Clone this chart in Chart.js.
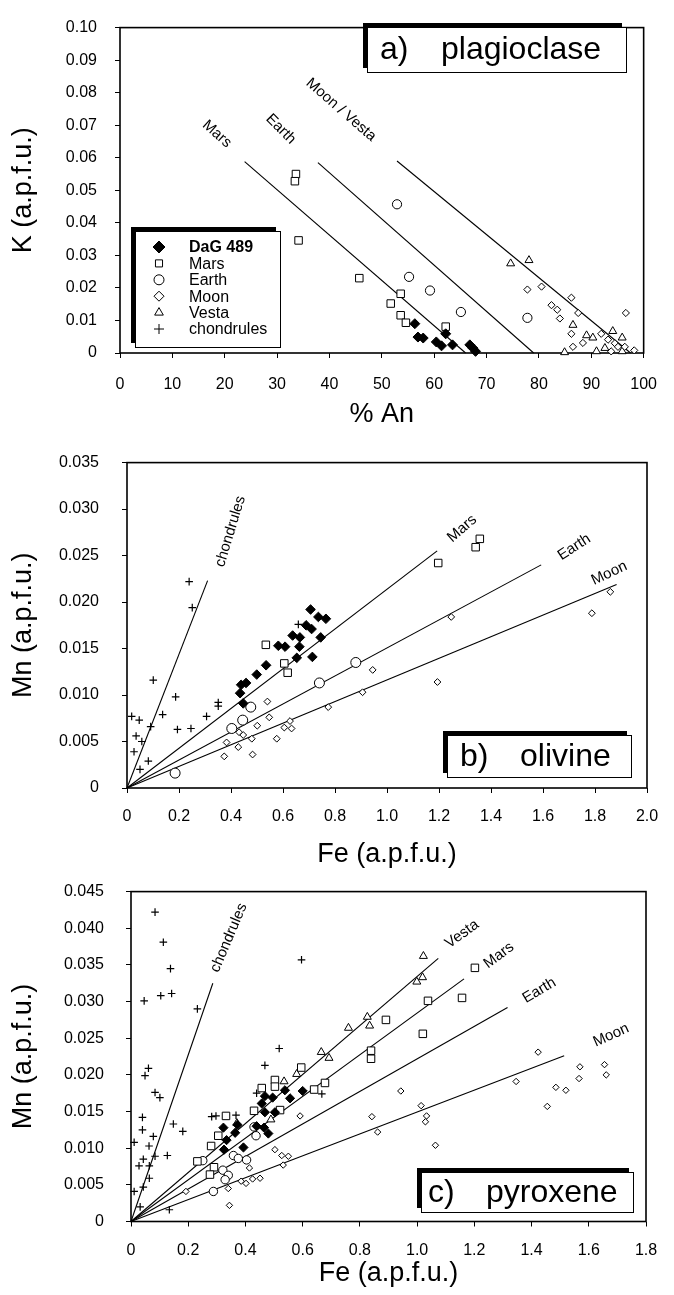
<!DOCTYPE html>
<html>
<head>
<meta charset="utf-8">
<script src="https://cdn.jsdelivr.net/npm/chart.js@4.4.1/dist/chart.umd.min.js"></script>
<style>
  html, body { margin: 0; padding: 0; background: #fff; }
  #wrap { position: relative; width: 674px; height: 1295px; overflow: hidden; background: #fff; }
  canvas { position: absolute; left: 0; }
</style>
</head>
<body>
<div id="wrap">
  <canvas id="chartA" width="674" height="440" style="top:0"></canvas>
  <canvas id="chartB" width="674" height="450" style="top:430px"></canvas>
  <canvas id="chartC" width="674" height="435" style="top:860px"></canvas>
</div>
<script>
// a) plagioclase : % An vs K (a.p.f.u.)
const aDaG = [[56.3,0.0090],[56.9,0.0049],[57.9,0.0046],[60.4,0.0034],[61.4,0.0022],[62.2,0.0059],[63.5,0.0025],[66.8,0.0025],[67.4,0.0015],[67.9,0.0005]];
const aMars = [[33.6,0.0550],[33.4,0.0528],[34.1,0.0346],[45.7,0.0230],[53.6,0.0182],[51.7,0.0152],[53.6,0.0116],[54.6,0.0093],[62.2,0.0081]];
const aEarth = [[52.9,0.0457],[55.2,0.0234],[59.2,0.0192],[65.1,0.0126],[77.8,0.0108]];
const aMoon = [[77.8,0.0195],[80.5,0.0204],[86.2,0.0170],[82.4,0.0147],[83.5,0.0133],[84.0,0.0106],[87.5,0.0123],[96.6,0.0123],[86.2,0.0059],[86.5,0.0019],[88.4,0.0031],[91.9,0.0059],[93.2,0.0041],[94.5,0.0030],[96.4,0.0019],[98.2,0.0008],[93.8,0.0005],[95.1,0.0019]];
const aVesta = [[74.6,0.0275],[78.1,0.0285],[84.9,0.0002],[86.5,0.0086],[89.1,0.0054],[90.3,0.0047],[94.1,0.0067],[95.9,0.0047],[91.0,0.0005],[92.6,0.0015],[95.9,0.0005]];
const aLineMars = [[23.8,0.0588],[66,0]];
const aLineEarth = [[37.8,0.0585],[79,0]];
const aLineMoonVesta = [[52.9,0.059],[97.5,0]];
const aXVals = [0,10,20,30,40,50,60,70,80,90,100];
const aXLabels = ['0','10','20','30','40','50','60','70','80','90','100'];
const aYVals = [0,0.01,0.02,0.03,0.04,0.05,0.06,0.07,0.08,0.09,0.10];
const aYLabels = ['0','0.01','0.02','0.03','0.04','0.05','0.06','0.07','0.08','0.09','0.10'];
const aLineLabels = [['Mars',18.5,0.0673,42],['Earth',30.7,0.0688,45],['Moon / Vesta',42.2,0.0747,41]];

// b) olivine : Fe vs Mn (a.p.f.u.)
const bDaG = [[0.706,0.0192],[0.736,0.0184],[0.765,0.0182],[0.689,0.0175],[0.710,0.0171],[0.745,0.0162],[0.637,0.0164],[0.665,0.0162],[0.663,0.0152],[0.582,0.0153],[0.608,0.0152],[0.653,0.0140],[0.713,0.0141],[0.535,0.0132],[0.499,0.0122],[0.439,0.0111],[0.458,0.0113],[0.435,0.0102],[0.447,0.0091]];
const bMars = [[0.534,0.0154],[0.605,0.0134],[0.618,0.0124],[1.197,0.0242],[1.341,0.0259],[1.357,0.0268]];
const bEarth = [[0.880,0.0135],[0.740,0.0113],[0.476,0.0087],[0.445,0.0073],[0.403,0.0064],[0.185,0.0016]];
const bMoon = [[0.540,0.0093],[0.547,0.0076],[0.501,0.0067],[0.431,0.0060],[0.447,0.0057],[0.480,0.0053],[0.383,0.0049],[0.428,0.0044],[0.374,0.0034],[0.483,0.0036],[0.576,0.0053],[0.605,0.0065],[0.627,0.0072],[0.633,0.0064],[0.774,0.0087],[0.906,0.0103],[0.945,0.0127],[1.194,0.0114],[1.247,0.0184],[1.788,0.0188],[1.859,0.0211]];
const bChond = [[0.239,0.0222],[0.251,0.0194],[0.101,0.0116],[0.187,0.0098],[0.137,0.0079],[0.018,0.0077],[0.047,0.0073],[0.091,0.0066],[0.194,0.0063],[0.246,0.0064],[0.306,0.0077],[0.351,0.0092],[0.351,0.0088],[0.035,0.0056],[0.057,0.0050],[0.027,0.0039],[0.082,0.0029],[0.050,0.0020],[0.659,0.0176]];
const bLineChond = [[0,0],[0.310,0.0223]];
const bLineMars = [[0,0],[1.193,0.0255]];
const bLineEarth = [[0,0],[1.593,0.0240]];
const bLineMoon = [[0,0],[1.883,0.0219]];
const bXVals = [0,0.2,0.4,0.6,0.8,1.0,1.2,1.4,1.6,1.8,2.0];
const bXLabels = ['0','0.2','0.4','0.6','0.8','1.0','1.2','1.4','1.6','1.8','2.0'];
const bYVals = [0,0.005,0.010,0.015,0.020,0.025,0.030,0.035];
const bYLabels = ['0','0.005','0.010','0.015','0.020','0.025','0.030','0.035'];
const bLineLabels = [['chondrules',0.398,0.0276,-73],['Mars',1.289,0.0279,-41],['Earth',1.72,0.0259,-33],['Moon',1.855,0.0231,-25]];

// c) pyroxene : Fe vs Mn (a.p.f.u.)
const cDaG = [[0.538,0.0179],[0.600,0.0178],[0.556,0.0168],[0.468,0.0171],[0.495,0.0169],[0.457,0.0161],[0.503,0.0149],[0.468,0.0149],[0.323,0.0128],[0.372,0.0132],[0.364,0.0121],[0.334,0.0111],[0.325,0.0098],[0.393,0.0101],[0.439,0.0130],[0.465,0.0128],[0.480,0.0120]];
const cMars = [[1.202,0.0346],[1.038,0.0301],[1.157,0.0305],[0.891,0.0275],[1.020,0.0256],[0.839,0.0233],[0.839,0.0222],[0.595,0.0210],[0.503,0.0193],[0.503,0.0184],[0.457,0.0182],[0.640,0.0180],[0.678,0.0189],[0.332,0.0144],[0.430,0.0151],[0.521,0.0152],[0.305,0.0117],[0.280,0.0103],[0.232,0.0082],[0.290,0.0074],[0.276,0.0064]];
const cEarth = [[0.437,0.0117],[0.430,0.0129],[0.358,0.0090],[0.375,0.0086],[0.404,0.0084],[0.321,0.0070],[0.340,0.0063],[0.329,0.0057],[0.288,0.0041],[0.251,0.0083]];
const cMoon = [[0.591,0.0144],[0.503,0.0098],[0.527,0.0090],[0.550,0.0089],[0.532,0.0077],[0.414,0.0073],[0.385,0.0055],[0.402,0.0052],[0.425,0.0058],[0.451,0.0059],[0.340,0.0045],[0.192,0.0041],[0.344,0.0022],[0.943,0.0178],[0.842,0.0143],[0.862,0.0122],[1.014,0.0158],[1.033,0.0144],[1.029,0.0136],[1.064,0.0104],[1.346,0.0191],[1.423,0.0231],[1.455,0.0157],[1.485,0.0183],[1.520,0.0179],[1.569,0.0211],[1.566,0.0195],[1.655,0.0214],[1.661,0.0200]];
const cVesta = [[1.022,0.0362],[0.999,0.0327],[1.019,0.0333],[0.826,0.0279],[0.834,0.0267],[0.760,0.0264],[0.665,0.0231],[0.692,0.0223],[0.579,0.0201],[0.535,0.0191],[0.489,0.0139],[0.370,0.0134]];
const cChond = [[0.084,0.0422],[0.113,0.0381],[0.138,0.0345],[0.046,0.0301],[0.104,0.0308],[0.142,0.0311],[0.232,0.0290],[0.596,0.0357],[0.518,0.0236],[0.468,0.0213],[0.061,0.0209],[0.049,0.0199],[0.084,0.0176],[0.101,0.0169],[0.040,0.0142],[0.040,0.0125],[0.011,0.0108],[0.078,0.0116],[0.063,0.0103],[0.084,0.0089],[0.043,0.0085],[0.028,0.0076],[0.064,0.0076],[0.127,0.0090],[0.064,0.0059],[0.043,0.0047],[0.011,0.0041],[0.032,0.0020],[0.134,0.0016],[0.148,0.0133],[0.181,0.0123],[0.282,0.0143],[0.297,0.0144],[0.367,0.0145],[0.667,0.0174],[0.439,0.0175]];
const cLineChond = [[0,0],[0.286,0.0325]];
const cLineVesta = [[0,0],[1.074,0.0359]];
const cLineMars = [[0,0],[1.164,0.0331]];
const cLineEarth = [[0,0],[1.316,0.0292]];
const cLineMoon = [[0,0],[1.514,0.0226]];
const cXVals = [0,0.2,0.4,0.6,0.8,1.0,1.2,1.4,1.6,1.8];
const cXLabels = ['0','0.2','0.4','0.6','0.8','1.0','1.2','1.4','1.6','1.8'];
const cYVals = [0,0.005,0.010,0.015,0.020,0.025,0.030,0.035,0.040,0.045];
const cYLabels = ['0','0.005','0.010','0.015','0.020','0.025','0.030','0.035','0.040','0.045'];
const cLineLabels = [['chondrules',0.342,0.0387,-67],['Vesta',1.157,0.0392,-36],['Mars',1.286,0.0363,-37],['Earth',1.427,0.0315,-31],['Moon',1.678,0.0254,-24]];

const legendItems = [['DaG 489','rectRot',true],['Mars','rect',false],['Earth','circle',false],['Moon','rectRot',false],['Vesta','triangle',false],['chondrules','cross',false]];

const FONT = '"Liberation Sans", Arial, sans-serif';

function pts(arr) { return arr.map(p => ({ x: p[0], y: p[1] })); }
function marks(arr, style, r, fill) {
  return { data: pts(arr), pointStyle: style, pointRadius: r, pointBackgroundColor: fill,
    pointBorderColor: '#000', pointBorderWidth: style === 'cross' ? 1.2 : 1, showLine: false, clip: false };
}
function seg(arr) {
  return { data: pts(arr), showLine: true, pointRadius: 0, borderColor: '#000', borderWidth: 1.1, clip: false };
}

// small shape drawer for the legend
function shape(ctx, style, x, y, r, filled) {
  ctx.beginPath();
  if (style === 'rect') { const s = r * Math.SQRT1_2; ctx.rect(x - s, y - s, 2 * s, 2 * s); }
  else if (style === 'rectRot') { ctx.moveTo(x, y - r); ctx.lineTo(x + r, y); ctx.lineTo(x, y + r); ctx.lineTo(x - r, y); ctx.closePath(); }
  else if (style === 'circle') { ctx.arc(x, y, r, 0, Math.PI * 2); }
  else if (style === 'triangle') {
    ctx.moveTo(x, y - r); ctx.lineTo(x + r * 0.866, y + r / 2); ctx.lineTo(x - r * 0.866, y + r / 2); ctx.closePath();
  } else if (style === 'cross') { ctx.moveTo(x - r, y); ctx.lineTo(x + r, y); ctx.moveTo(x, y - r); ctx.lineTo(x, y + r); }
  ctx.fillStyle = filled ? '#000' : '#fff';
  if (style !== 'cross') ctx.fill();
  ctx.stroke();
}

function shadowBox(ctx, b) {
  ctx.fillStyle = '#000';
  ctx.fillRect(b.x - 4, b.y - 4, b.w, b.h);
  ctx.fillStyle = '#fff';
  ctx.fillRect(b.x, b.y, b.w, b.h);
  ctx.strokeStyle = '#000'; ctx.lineWidth = 1;
  ctx.strokeRect(b.x + 0.5, b.y + 0.5, b.w, b.h);
}

const decor = {
  id: 'decor',
  beforeDatasetsDraw(chart) {
    const { ctx, chartArea: a } = chart;
    ctx.save();
    ctx.strokeStyle = '#000'; ctx.lineWidth = 1.6;
    ctx.strokeRect(a.left, a.top, a.right - a.left, a.bottom - a.top);
    ctx.restore();
  },
  afterDatasetsDraw(chart, args, opts) {
    const { ctx, scales: { x, y } } = chart;
    ctx.save();
    ctx.fillStyle = '#000';
    ctx.font = '15px ' + FONT;
    ctx.textAlign = 'center'; ctx.textBaseline = 'middle';
    (opts.labels || []).forEach(l => {
      ctx.save();
      ctx.translate(x.getPixelForValue(l[1]), y.getPixelForValue(l[2]));
      ctx.rotate(l[3] * Math.PI / 180);
      ctx.fillText(l[0], 0, 0);
      ctx.restore();
    });
    if (opts.box) {
      const b = opts.box;
      shadowBox(ctx, b);
      ctx.fillStyle = '#000';
      ctx.font = '32px ' + FONT;
      ctx.textAlign = 'left';
      b.parts.forEach(p => ctx.fillText(p[0], p[1], b.y + b.h / 2 + 1));
    }
    if (opts.legend) {
      const g = opts.legend;
      shadowBox(ctx, g);
      ctx.strokeStyle = '#000'; ctx.lineWidth = 1;
      legendItems.forEach((it, i) => {
        const yy = g.y + 16 + i * 16.4;
        shape(ctx, it[1], g.x + 24, yy, it[1] === 'rectRot' && it[2] ? 6 : 5, it[2]);
        ctx.fillStyle = '#000';
        ctx.font = (i === 0 ? 'bold ' : '') + '16px ' + FONT;
        ctx.textAlign = 'left';
        ctx.fillText(it[0], g.x + 54, yy + 1);
      });
    }
    ctx.restore();
  }
};

const tickFont = { family: FONT, size: 16 };
const titleFont = { family: FONT, size: 27 };

function makeScales(c) {
  return {
    x: {
      type: 'linear', min: c.xVals[0], max: c.xVals[c.xVals.length - 1],
      afterBuildTicks: s => { s.ticks = c.xVals.map(v => ({ value: v })); },
      afterFit: s => { s.height = c.xH; },
      ticks: { callback: (v, i) => c.xLabels[i], padding: c.xPad, font: tickFont, color: '#000', maxRotation: 0, autoSkip: false },
      grid: { display: true, drawOnChartArea: false, tickLength: 5, color: '#000', lineWidth: 1 },
      border: { display: false },
      title: { display: true, text: c.xTitle, font: titleFont, color: '#000', padding: { top: 0, bottom: c.xTitlePad } }
    },
    y: {
      type: 'linear', min: 0, max: c.yVals[c.yVals.length - 1],
      afterBuildTicks: s => { s.ticks = c.yVals.map(v => ({ value: v })); },
      afterFit: s => { s.width = c.yW; },
      ticks: { callback: (v, i) => c.yLabels[i], padding: c.yPad, font: tickFont, color: '#000', autoSkip: false },
      grid: { display: true, drawOnChartArea: false, tickLength: 5, color: '#000', lineWidth: 1 },
      border: { display: false },
      title: { display: true, text: c.yTitle, font: titleFont, color: '#000', padding: { top: 7, bottom: 0 } }
    }
  };
}

function build(id, datasets, c, decorOpts) {
  return new Chart(document.getElementById(id), {
    type: 'scatter',
    data: { datasets: datasets },
    options: {
      responsive: false, animation: false, events: [],
      layout: { padding: { top: c.padTop, right: c.padRight, bottom: 0, left: 0 } },
      scales: makeScales(c),
      plugins: { legend: { display: false }, tooltip: { enabled: false }, decor: decorOpts }
    },
    plugins: [decor]
  });
}

build('chartA', [
  marks(aDaG, 'rectRot', 5, '#000'),
  marks(aMars, 'rect', 5.3, '#fff'),
  marks(aEarth, 'circle', 4.6, '#fff'),
  marks(aMoon, 'rectRot', 3.6, '#fff'),
  marks(aVesta, 'triangle', 4.6, '#fff'),
  seg(aLineMars), seg(aLineEarth), seg(aLineMoonVesta)
], { xVals: aXVals, xLabels: aXLabels, yVals: aYVals, yLabels: aYLabels,
     xTitle: '% An', yTitle: 'K (a.p.f.u.)', xH: 87, yW: 120, xPad: 17, yPad: 18, xTitlePad: 9,
     padTop: 12, padRight: 30 },
  { labels: aLineLabels,
    box: { x: 367, y: 27, w: 259, h: 45, parts: [['a)', 380], ['plagioclase', 441]] },
    legend: { x: 135, y: 231, w: 145, h: 116 } });

build('chartB', [
  marks(bDaG, 'rectRot', 4.8, '#000'),
  marks(bMars, 'rect', 5.3, '#fff'),
  marks(bEarth, 'circle', 5, '#fff'),
  marks(bMoon, 'rectRot', 3.4, '#fff'),
  marks(bChond, 'cross', 3.8, '#000'),
  seg(bLineChond), seg(bLineMars), seg(bLineEarth), seg(bLineMoon)
], { xVals: bXVals, xLabels: bXLabels, yVals: bYVals, yLabels: bYLabels,
     xTitle: 'Fe (a.p.f.u.)', yTitle: 'Mn (a.p.f.u.)', xH: 92, yW: 127, xPad: 14, yPad: 23, xTitlePad: 9,
     padTop: 18, padRight: 27 },
  { labels: bLineLabels,
    box: { x: 447, y: 305, w: 184, h: 42, parts: [['b)', 460], ['olivine', 520]] } });

build('chartC', [
  marks(cDaG, 'rectRot', 4.6, '#000'),
  marks(cMars, 'rect', 5.3, '#fff'),
  marks(cEarth, 'circle', 4.2, '#fff'),
  marks(cMoon, 'rectRot', 3.2, '#fff'),
  marks(cVesta, 'triangle', 4.6, '#fff'),
  marks(cChond, 'cross', 3.8, '#000'),
  seg(cLineChond), seg(cLineVesta), seg(cLineMars), seg(cLineEarth), seg(cLineMoon)
], { xVals: cXVals, xLabels: cXLabels, yVals: cYVals, yLabels: cYLabels,
     xTitle: 'Fe (a.p.f.u.)', yTitle: 'Mn (a.p.f.u.)', xH: 73.5, yW: 131, xPad: 14, yPad: 22, xTitlePad: 5,
     padTop: 19, padRight: 28 },
  { labels: cLineLabels,
    box: { x: 421, y: 312, w: 212, h: 40, parts: [['c)', 428], ['pyroxene', 486]] } });
</script>
</body>
</html>
